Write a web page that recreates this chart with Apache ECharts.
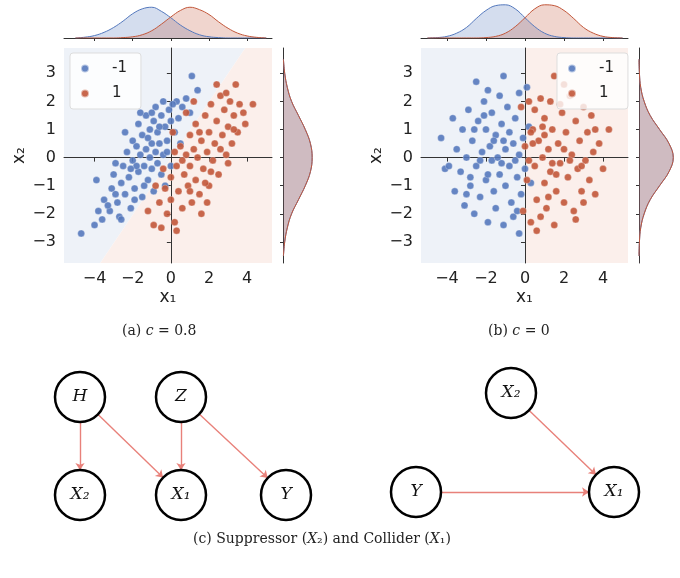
<!DOCTYPE html>
<html><head><meta charset="utf-8">
<script src="https://cdn.jsdelivr.net/npm/echarts@6/dist/echarts.min.js"></script>
<style>html,body{margin:0;padding:0;background:#fff}#c{width:680px;height:578px}</style>
</head><body><div id="c"></div>
<script>
const aNeg=[[-4.7,-2.7],[-4,-2.4],[-3.9,-0.8],[-3.6,-2.2],[-3.5,-1.5],[-3.2,-1.9],[-3.1,-1.1],[-3,-0.6],[-2.8,-1.6],[-2.7,-2.1],[-2.6,-0.9],[-2.5,-0.3],[-2.4,-1.3],[-2.3,0.2],[-2.2,-0.7],[-2.1,-1.8],[-2,-0.1],[-2,0.6],[-1.9,-1.1],[-1.8,0.4],[-1.7,-0.5],[-1.7,1.2],[-1.6,0.1],[-1.5,-1.4],[-1.5,0.8],[-1.4,-0.3],[-1.3,0.3],[-1.3,1.5],[-1.2,-0.8],[-1.1,0],[-1.1,1.0],[-1,0.5],[-1,-0.4],[-0.9,1.3],[-0.9,-1.2],[-0.8,0.2],[-0.8,1.8],[-0.7,-0.2],[-0.7,0.9],[-0.6,0.5],[-0.5,1.5],[-0.5,-0.6],[-0.4,0.1],[-0.4,2.0],[-0.3,1.1],[-0.2,0.6],[-0.1,1.7],[0,-0.3],[0,1.3],[0.2,0.9],[0.3,2.0],[0.4,1.4],[0.6,1.8],[0.8,2.1],[1.0,1.6],[1.4,2.4],[1.1,2.9],[-2.9,-0.2],[-3.3,-1.7],[-1.9,-1.5],[-2.4,0.9],[-0.3,-1.0],[-1.6,1.6],[0.5,0.5],[-2.6,-2.2],[-1.8,-0.3],[-1.2,0.7],[-0.6,1.1],[-2.1,-0.4],[-1.4,-1.0],[-0.2,0.2],[-3.8,-1.9],[-2.9,-1.3],[-1,1.6],[0.1,1.9]];
const aPos=[[-1.2,-1.9],[-0.9,-2.4],[-0.6,-1.6],[-0.5,-2.5],[-0.3,-1.1],[-0.2,-2.0],[0,-1.5],[0,-0.7],[0.2,-2.3],[0.3,-0.3],[0.4,-1.2],[0.5,0.4],[0.6,-1.8],[0.7,-0.6],[0.8,0.1],[0.9,-1.0],[1,0.8],[1,-0.3],[1.1,-1.6],[1.2,0.3],[1.3,1.2],[1.3,-0.8],[1.4,0],[1.5,-1.3],[1.6,0.6],[1.7,-0.4],[1.8,1.5],[1.9,0.2],[2,-1.0],[2,0.9],[2.1,1.9],[2.2,-0.1],[2.3,0.5],[2.4,1.3],[2.5,-0.6],[2.6,2.2],[2.7,0.8],[2.8,1.7],[2.9,0.1],[3,1.1],[3.1,2.0],[3.2,0.5],[3.3,1.5],[3.4,2.6],[3.5,0.9],[3.6,1.9],[3.9,1.2],[4.3,1.9],[3.8,1.6],[0.1,0.9],[-0.4,-0.4],[1.6,-2.0],[2.4,2.6],[0.8,1.6],[-0.8,-1.0],[1.9,-1.6],[2.9,2.3],[0.3,-2.6],[3.0,-0.2],[1.2,2.0],[0.6,-0.1],[1.5,0.9],[2.1,-0.5],[1.0,-1.2],[2.6,0.3],[0.2,0.2],[1.8,-0.9],[3.3,1.0]];
const bNeg=[[-4.3,0.7],[-4.1,-0.4],[-3.7,1.4],[-3.6,-1.2],[-3.5,0.3],[-3.3,-0.5],[-3.2,1.0],[-3.1,-1.7],[-3,0],[-2.9,1.7],[-2.8,-1],[-2.7,0.6],[-2.6,-2],[-2.5,2.7],[-2.5,-0.3],[-2.4,1.3],[-2.3,-1.4],[-2.2,0.2],[-2.1,2.0],[-2,-0.8],[-2,1.0],[-1.9,-2.3],[-1.8,0.4],[-1.7,-0.1],[-1.7,1.6],[-1.6,-1.2],[-1.5,0.8],[-1.5,-1.8],[-1.4,0],[-1.3,2.2],[-1.3,-0.6],[-1.2,1.2],[-1.1,2.9],[-1.1,-2.4],[-1,0.3],[-1,-1.0],[-0.9,1.8],[-0.8,-0.3],[-0.8,0.9],[-0.7,-1.6],[-0.6,0.5],[-0.6,-2.1],[-0.5,1.4],[-0.4,-0.7],[-0.3,0.1],[-0.3,2.3],[-0.2,-1.3],[-0.1,0.7],[0,-0.4],[0.1,2.5],[0.2,1.1],[-0.3,-2.7],[-1.9,2.4],[-2.8,-0.7],[-3.9,-0.3],[-1.2,-0.2],[-0.5,-0.1],[-1.6,0.6],[-2.3,-0.1],[0.3,-0.9],[-2.6,1.0],[-1.9,-0.6],[-1.1,0.6],[-0.4,-1.9],[-3.0,-1.3],[-2.1,1.5]];
const bPos=[[-0.2,1.8],[-0.1,-1.9],[0,0.4],[0.1,-0.8],[0.2,2.0],[0.3,-2.3],[0.4,1.0],[0.5,-0.3],[0.6,-1.5],[0.7,0.6],[0.8,2.1],[0.8,-2.1],[0.9,0],[1,1.4],[1,-0.9],[1.1,-1.8],[1.2,0.3],[1.3,2.0],[1.3,-0.5],[1.4,1.0],[1.5,-2.4],[1.5,2.9],[1.6,-1.2],[1.7,0.5],[1.8,-0.2],[1.9,1.6],[2,-1.6],[2.1,0.9],[2.2,-0.7],[2.3,2.2],[2.4,0.1],[2.5,-1.9],[2.6,1.3],[2.7,-0.4],[2.8,0.6],[2.9,-1.2],[3,1.8],[3.1,-0.1],[3.2,0.9],[3.3,-0.8],[3.4,1.5],[3.5,0.2],[3.6,-1.3],[3.8,0.5],[4.0,-0.4],[4.3,1.0],[3.0,-1.6],[0.5,1.7],[1.8,1.9],[2.0,2.6],[0.2,-0.1],[1.0,0.8],[2.6,-2.2],[0.6,-2.6],[3.6,1.0],[1.2,-1.4],[2.3,-0.1],[0.4,0.5],[1.6,-0.6],[2.0,0.3],[0.9,1.1],[2.9,-0.3],[1.4,-0.2],[0.3,0.9]];
// marginal densities (hand-read) at x = -5..5 step 0.5
const gridX=[-5,-4.5,-4,-3.5,-3,-2.5,-2,-1.5,-1,-0.5,0,0.5,1,1.5,2,2.5,3,3.5,4,4.5,5];
const aTopNeg=[0,0.01,0.03,0.07,0.13,0.21,0.3,0.36,0.38,0.33,0.25,0.16,0.09,0.04,0.015,0.005,0,0,0,0,0];
const aTopPos=[0,0,0,0,0,0.005,0.015,0.04,0.09,0.17,0.26,0.34,0.38,0.35,0.29,0.2,0.12,0.06,0.025,0.008,0];
const bTopNeg=[0,0.005,0.02,0.06,0.13,0.24,0.34,0.4,0.41,0.36,0.25,0.14,0.06,0.02,0.005,0,0,0,0,0,0];
const bTopPos=[0,0,0,0,0,0,0.005,0.02,0.06,0.14,0.25,0.36,0.41,0.4,0.34,0.24,0.13,0.06,0.02,0.005,0];
const gridY=[-3.5,-3,-2.5,-2,-1.5,-1,-0.5,0,0.5,1,1.5,2,2.5,3,3.5];
const aRightNeg=[0.005,0.02,0.05,0.1,0.18,0.26,0.32,0.34,0.32,0.26,0.18,0.1,0.05,0.02,0.005];
const aRightPos=[0.005,0.02,0.05,0.1,0.18,0.26,0.32,0.34,0.32,0.26,0.18,0.1,0.05,0.02,0.005];
const bRightNeg=[0,0.005,0.02,0.06,0.13,0.24,0.35,0.4,0.35,0.24,0.13,0.06,0.02,0.005,0];
const bRightPos=[0,0.005,0.02,0.06,0.13,0.24,0.35,0.4,0.35,0.24,0.13,0.06,0.02,0.005,0];
// decision regions
const aRegNeg=[[-5.6,-3.75],[-3.7,-3.75],[3.9,3.9],[-5.6,3.9]];
const aRegPos=[[-3.7,-3.75],[5.3,-3.75],[5.3,3.9],[3.9,3.9]];
const bRegNeg=[[-5.33,-3.75],[0,-3.75],[0,3.9],[-5.33,3.9]];
const bRegPos=[[0,-3.75],[5.28,-3.75],[5.28,3.9],[0,3.9]];
const xTicks=[-4,-2,0,2,4], yTicks=[-3,-2,-1,0,1,2,3];
const nodes=[['H',80,397],['Z',181,397],['X₂',80,495],['X₁',181,495],['Y',286,495],['X₂ ',511,393],['Y ',416,492],['X₁ ',614,492]];
const edges=[['H','X₂'],['H','X₁'],['Z','X₁'],['Z','Y'],['X₂ ','X₁ '],['Y ','X₁ ']];

const BLUE='#5579bd', RED='#c2573a';
const fmt=v=>String(v).replace('-','\u2212');
const ax={axisLine:{show:true,lineStyle:{color:'#333',width:1}},axisTick:{show:true,length:4,lineStyle:{color:'#333'}},splitLine:{show:false},axisLabel:{color:'#222',fontSize:16,fontFamily:'DejaVu Sans',formatter:fmt}};
const grids=[
 {left:64,top:48,width:208,height:215},{left:64,top:4,width:208,height:34},{left:283,top:48,width:36,height:215},
 {left:421,top:48,width:207,height:215},{left:421,top:4,width:207,height:34},{left:639,top:48,width:36,height:215}];
const xAxis=[],yAxis=[];
function mainAxes(gi,xmin,xmax){
 xAxis.push(Object.assign({},ax,{gridIndex:gi,type:'value',min:xmin,max:xmax,interval:2,axisLabel:Object.assign({},ax.axisLabel,{customValues:xTicks}),axisTick:Object.assign({},ax.axisTick,{customValues:xTicks}),name:'x₁',nameLocation:'middle',nameGap:26,nameTextStyle:{fontSize:17,color:'#222',fontFamily:'DejaVu Sans'}}));
 yAxis.push(Object.assign({},ax,{gridIndex:gi,type:'value',min:-3.75,max:3.9,axisLabel:Object.assign({},ax.axisLabel,{customValues:yTicks}),axisTick:Object.assign({},ax.axisTick,{customValues:yTicks}),name:'x₂',nameLocation:'middle',nameGap:34,nameTextStyle:{fontSize:17,color:'#222',fontFamily:'DejaVu Sans'}}));
}
function topAxes(gi,xmin,xmax){
 xAxis.push({gridIndex:gi,type:'value',min:xmin,max:xmax,axisLine:{lineStyle:{color:'#333'}},axisTick:{length:3,customValues:xTicks,lineStyle:{color:'#333'}},axisLabel:{show:false},splitLine:{show:false}});
 yAxis.push({gridIndex:gi,type:'value',min:0,max:0.42,show:false});
}
function rightAxes(gi){
 xAxis.push({gridIndex:gi,type:'value',min:0,max:0.42,show:false});
 yAxis.push({gridIndex:gi,type:'value',min:-3.75,max:3.9,axisLine:{show:true,lineStyle:{color:'#333'}},axisTick:{show:true,length:3,customValues:yTicks,lineStyle:{color:'#333'}},axisLabel:{show:false},splitLine:{show:false}});
}
mainAxes(0,-5.6,5.3); topAxes(1,-5.6,5.3); rightAxes(2);
mainAxes(3,-5.33,5.28); topAxes(4,-5.33,5.28); rightAxes(5);

const series=[];
function region(ai,poly,color){
 series.push({type:'custom',xAxisIndex:ai,yAxisIndex:ai,silent:true,z:0,data:[0],
  renderItem:(p,api)=>({type:'polygon',shape:{points:poly.map(v=>api.coord(v))},style:{fill:color}})});
}
function pts(ai,name,data,color){
 series.push({type:'scatter',name,xAxisIndex:ai,yAxisIndex:ai,data,symbolSize:7,z:3,
  itemStyle:{color,opacity:0.9,borderColor:'rgba(255,255,255,0.6)',borderWidth:0.5}});
}
function dens(ai,xs,ys,color,horiz){
 series.push({type:'line',xAxisIndex:ai,yAxisIndex:ai,smooth:0.4,symbol:'none',z:2,
  data:xs.map((x,i)=>horiz?[ys[i],x]:[x,ys[i]]),lineStyle:{color,width:1},
  areaStyle:{color,opacity:0.25,origin:'start'}});
}
region(0,aRegNeg,'#eef2f8'); region(0,aRegPos,'#fbefeb');
pts(0,'-1',aNeg,BLUE); pts(0,'1',aPos,RED);
dens(1,gridX,aTopNeg,BLUE,false); dens(1,gridX,aTopPos,RED,false);
dens(2,gridY,aRightNeg,BLUE,true); dens(2,gridY,aRightPos,RED,true);
region(3,bRegNeg,'#eef2f8'); region(3,bRegPos,'#fbefeb');
pts(3,'-1',bNeg,BLUE); pts(3,'1',bPos,RED);
dens(4,gridX,bTopNeg,BLUE,false); dens(4,gridX,bTopPos,RED,false);
dens(5,gridY,bRightNeg,BLUE,true); dens(5,gridY,bRightPos,RED,true);

series.push({type:'graph',layout:'none',left:80,top:393,width:534,height:102,z:5,
 symbol:'circle',symbolSize:50,roam:false,
 itemStyle:{color:'#fff',borderColor:'#000',borderWidth:2.5},
 label:{show:true,position:'inside',fontFamily:'DejaVu Serif',fontStyle:'italic',fontSize:17,color:'#111',formatter:p=>p.name.trim()},
 edgeSymbol:['none','arrow'],edgeSymbolSize:7,
 lineStyle:{color:'#e8817a',width:1.4,opacity:1},
 data:nodes.map(n=>({name:n[0],x:n[1],y:n[2]})),
 links:edges.map(e=>({source:e[0],target:e[1]}))});

const legStyle={orient:'vertical',itemWidth:8,itemHeight:8,itemGap:10,icon:'circle',backgroundColor:'rgba(255,255,255,0.8)',borderColor:'#ddd',borderWidth:1,borderRadius:3,padding:[8,14,8,10],textStyle:{fontSize:15,color:'#222',fontFamily:'DejaVu Sans',padding:[0,0,0,18]},data:['-1','1'],selectedMode:false};
const capRich={i:{fontFamily:'DejaVu Serif',fontStyle:'italic',fontSize:14,fill:'#222'}};
const cap={fontFamily:'DejaVu Serif',fontSize:14,fill:'#222',rich:capRich};
const chart=echarts.init(document.getElementById('c'));
chart.setOption({animation:false,grid:grids,xAxis,yAxis,series,
 legend:[Object.assign({left:70,top:53},legStyle),Object.assign({left:557,top:53},legStyle)],
 graphic:[
  {type:'text',left:122,top:324,style:Object.assign({text:'(a) {i|c} = 0.8'},cap)},
  {type:'text',left:488,top:324,style:Object.assign({text:'(b) {i|c} = 0'},cap)},
  {type:'text',left:193,top:532,style:Object.assign({text:'(c) Suppressor ({i|X}₂) and Collider ({i|X}₁)'},cap)}
 ]});
</script></body></html>
